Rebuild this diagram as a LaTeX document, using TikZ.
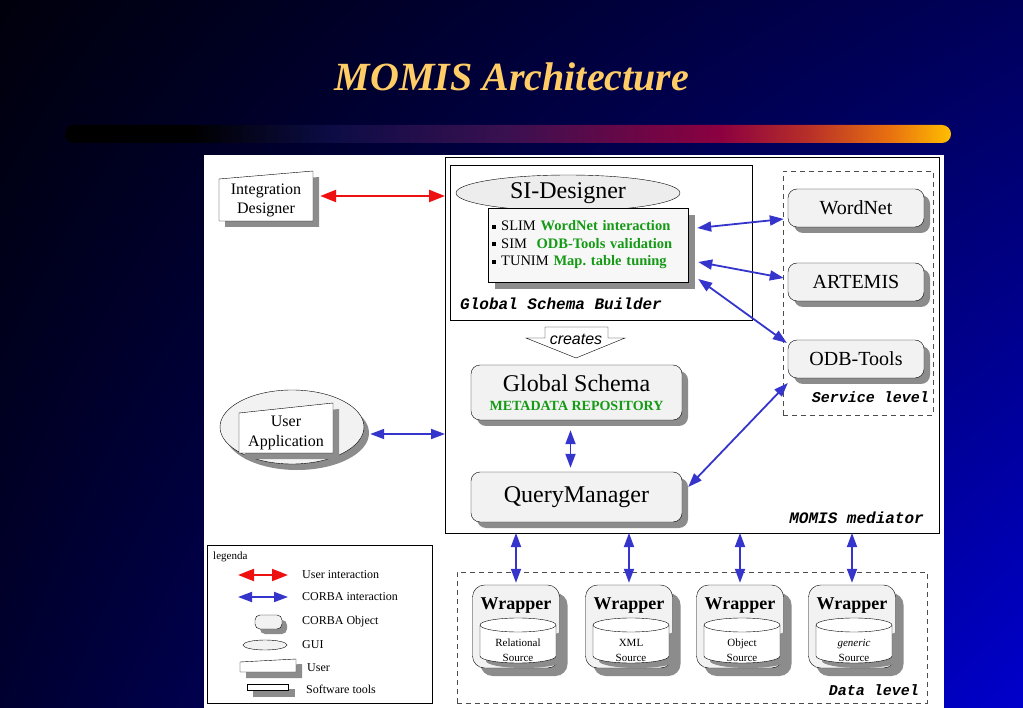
\documentclass[tikz,border=0pt]{standalone}
\usepackage{fontspec}
\setmainfont{Liberation Serif}
\setmonofont{Liberation Mono}
\newfontfamily\creafont{Liberation Sans}
\usepackage{xcolor}
\usetikzlibrary{arrows.meta,shapes.geometric,shadows,shadings}

\definecolor{titlegold}{HTML}{FFCC66}
\definecolor{corbablue}{HTML}{3535CC}
\definecolor{userred}{HTML}{EE1111}
\definecolor{toolgreen}{HTML}{159A15}
\definecolor{boxgray}{HTML}{F2F2F2}
\definecolor{shadowgray}{HTML}{8C8C8C}
\definecolor{barnavy}{HTML}{0C0C45}
\definecolor{barpurple}{HTML}{3A1050}
\definecolor{barcrimson}{HTML}{8C0040}
\definecolor{barred}{HTML}{B83028}
\definecolor{barorange}{HTML}{E87010}
\definecolor{bargold}{HTML}{FFBE00}
\definecolor{bgtl}{HTML}{00000C}
\definecolor{bgtr}{HTML}{00005A}
\definecolor{bgbl}{HTML}{000030}
\definecolor{bgbr}{HTML}{0000CC}

% TikZ fits the middle half (25bp--75bp) of a shading to the path
\pgfdeclarehorizontalshading{barshade}{100bp}{color(0bp)=(black); color(32bp)=(black); color(40bp)=(barnavy); color(50bp)=(barpurple); color(62bp)=(barcrimson); color(67bp)=(barred); color(71.5bp)=(barorange); color(75bp)=(bargold); color(100bp)=(bargold)}

\newcommand{\bsq}{\rule[0.3ex]{0.3em}{0.3em}}
\newcommand{\greenbf}[1]{\textcolor{toolgreen}{\bfseries #1}}

\tikzset{
  box/.style={draw, fill=boxgray, rounded corners=9pt, inner sep=0pt,
    drop shadow={shadow xshift=#1, shadow yshift=-#1, fill=shadowgray, opacity=1}},
  box/.default=6pt,
  frame/.style={draw, inner sep=0pt, outer sep=0pt},
  level/.style={draw=black!70, dash pattern=on 5pt off 4pt, inner sep=0pt, outer sep=0pt},
  lvltext/.style={font=\fontsize{15}{15}\selectfont\ttfamily\bfseries\itshape, anchor=base east, inner sep=0pt},
  corba/.style={draw=corbablue, line width=1.8pt, {Triangle[length=14pt,width=10pt]}-{Triangle[length=14pt,width=10pt]}},
  userlink/.style={draw=userred, line width=2.4pt, {Triangle[length=16pt,width=12pt]}-{Triangle[length=16pt,width=12pt]}},
  legtext/.style={anchor=west, inner sep=0pt, font=\fontsize{12}{12}\selectfont},
}

\begin{document}
\begin{tikzpicture}[x=1pt,y=-1pt]
    % Slide background
    \shade[upper left=bgtl, upper right=bgtr, lower left=bgbl, lower right=bgbr]
        (0,0) rectangle (1023,708);
    \useasboundingbox (0,0) rectangle (1023,708);

    % Title and bar
    \node[anchor=base, text=titlegold, font=\fontsize{40}{40}\selectfont\bfseries\itshape] (title) at (512,91) {MOMIS Architecture};
    \shade[shading=barshade, rounded corners=9pt] (65,125) rectangle (951,143);

    % White panel
    \fill[white] (204,155) rectangle (944,708);

    % Frames
    \node[frame, minimum width=494pt, minimum height=376pt] (med) at (692,345) {};
    \node[frame, minimum width=302pt, minimum height=155pt] (gsb) at (601,242.5) {};
    \node[level, minimum width=150pt, minimum height=244pt] (service) at (858,293) {};
    \node[level, minimum width=470pt, minimum height=131pt] (datalvl) at (692,637.5) {};

    \node[lvltext, font=\fontsize{16}{16}\selectfont\ttfamily\bfseries\itshape, anchor=base west] (gsblabel) at (460,310) {Global Schema Builder};
    \node[lvltext, font=\fontsize{16}{16}\selectfont\ttfamily\bfseries\itshape] (medlabel) at (924,523) {MOMIS mediator};
    \node[lvltext] (servlabel) at (929,403) {Service level};
    \node[lvltext] (datalabel) at (919,695) {Data level};

    % SI-Designer
    \node[ellipse, draw, fill=gray!14, minimum width=224pt, minimum height=36pt, inner sep=0pt,
          font=\fontsize{24}{24}\selectfont] (sid) at (568,193) {SI-Designer};
    \node[box=7pt, sharp corners, fill=gray!6, minimum width=200pt, minimum height=74pt,
          text width=192pt, align=left, font=\fontsize{14.5}{17.5}\selectfont] (tools) at (588,245)
        {\bsq~SLIM \greenbf{WordNet interaction}\\\bsq~SIM\ \ \greenbf{ODB-Tools validation}\\\bsq~TUNIM \greenbf{Map.\ table tuning}};

    % creates arrow
    \draw[fill=white] (545,327) -- (608,327) -- (608,338) -- (625,338) -- (576,358) -- (526,338) -- (545,338) -- cycle;
    \node[font=\fontsize{16}{16}\selectfont\creafont\itshape, inner sep=0pt] (creates) at (576,339) {creates};

    % Global Schema and QueryManager
    \node[box, minimum width=211pt, minimum height=55pt, align=center, font=\fontsize{24}{24}\selectfont] (gschema) at (576.5,392.5)
        {Global Schema\\[-5pt]{\fontsize{14}{14}\selectfont\bfseries\color{toolgreen}METADATA REPOSITORY}};
    \node[box, minimum width=211pt, minimum height=50pt, font=\fontsize{24}{24}\selectfont] (qm) at (576.5,497) {QueryManager};

    % Service level tools
    \node[box, minimum width=136pt, minimum height=38pt, font=\fontsize{20}{20}\selectfont] (wordnet) at (856,208) {WordNet};
    \node[box, minimum width=136pt, minimum height=38pt, font=\fontsize{20}{20}\selectfont] (artemis) at (856,282) {ARTEMIS};
    \node[box, minimum width=136pt, minimum height=38pt, font=\fontsize{20}{20}\selectfont] (odb) at (856,359) {ODB-Tools};

    % Integration Designer
    \fill[shadowgray] (225,185) -- (319,177) -- (319,227) -- (225,227) -- cycle;
    \draw[fill=white] (219,179) -- (313,171) -- (313,221) -- (219,221) -- cycle;
    \node[align=center, minimum width=94pt, inner sep=0pt, font=\fontsize{16}{19}\selectfont] (intdes) at (266,200) {Integration\\Designer};

    % User Application
    \node[ellipse, draw, fill=boxgray, minimum width=144pt, minimum height=74pt, inner sep=0pt,
          drop shadow={shadow xshift=5pt, shadow yshift=-6pt, fill=shadowgray, opacity=1}] (uapp) at (292,427) {};
    \fill[shadowgray] (245,419) -- (339,409) -- (339,459) -- (245,459) -- cycle;
    \draw[fill=white] (239,413) -- (333,403) -- (333,453) -- (239,453) -- cycle;
    \node[align=center, inner sep=0pt, font=\fontsize{16}{20}\selectfont] (uatext) at (286,433) {User\\Application};

    % Connectors
    \coordinate (idstart) at ([xshift=7pt,yshift=4pt]intdes.east);
    \draw[userlink] (idstart) -- (idstart -| med.west);
    \coordinate (uastart) at ([xshift=6pt,yshift=-7pt]uapp.east);
    \draw[corba] (uastart) -- (uastart -| med.west);
    \draw[corba] ([xshift=9pt,yshift=17pt]tools.east) -- ([xshift=-4pt,yshift=-11pt]wordnet.west);
    \draw[corba] ([xshift=10pt,yshift=-17pt]tools.east) -- ([xshift=-4pt,yshift=4pt]artemis.west);
    \draw[corba] ([xshift=10pt,yshift=-34pt]tools.east) -- ([xshift=-1pt,yshift=16pt]odb.west);
    \draw[corba] ([yshift=-24pt]odb.west) -- ([xshift=6pt,yshift=10pt]qm.east);
    \draw[corba] ([xshift=-6pt,yshift=-10pt]gschema.south) -- ([xshift=-6pt,yshift=4pt]qm.north);

    % Wrappers
    \foreach \x/\n/\src in {516/wa/Relational, 629/wb/XML, 740/wc/Object, 852/wd/{\textit{generic}}} {
        \node[box=8pt, rounded corners=12pt, minimum width=87pt, minimum height=83pt] (\n) at (\x,626.5) {};
        \node[inner sep=0pt, font=\fontsize{18}{18}\selectfont\bfseries] (\n-title) at (\x,606) {Wrapper};
        \fill[shadowgray, shift={(6,5)}] (\x-36,625) -- (\x-36,656) arc[start angle=180, end angle=0, x radius=38, y radius=7] -- (\x+40,625) arc[start angle=0, end angle=180, x radius=38, y radius=7];
        \draw[fill=white] (\x-36,625) -- (\x-36,656) arc[start angle=180, end angle=0, x radius=38, y radius=7] -- (\x+40,625);
        \draw[fill=white] (\x+2,625) ellipse[x radius=38, y radius=7];
        \node[align=center, inner sep=0pt, font=\fontsize{11}{15}\selectfont] (\n-src) at (\x+2,650) {\src\\Source};
        \draw[corba] (\n.north |- med.south) -- ([yshift=2pt]\n.north);
    }

    % Legend
    \node[frame, minimum width=225pt, minimum height=158pt] (legend) at (319.5,624) {};
    \node[anchor=north west, inner sep=0pt, font=\fontsize{11}{11}\selectfont] (legtitle) at ([xshift=6pt,yshift=-7pt]legend.north west) {legenda};
    \coordinate (lga) at (238,575);
    \coordinate (lgb) at (288,575);
    \draw[userlink, line width=2pt] (lga) -- (lgb);
    \coordinate (lgc) at (238,597);
    \coordinate (lgd) at (288,597);
    \draw[corba] (lgc) -- (lgd);
    \node[box=5pt, rounded corners=5pt, minimum width=27pt, minimum height=14pt] (lgobj) at (268.5,622) {};
    \node[ellipse, draw, fill=boxgray, minimum width=44pt, minimum height=10pt, inner sep=0pt] (lggui) at (265,645) {};
    \fill[shadowgray] (246,667) -- (302,664) -- (302,678) -- (246,678) -- cycle;
    \draw[fill=white] (240,662) -- (296,659) -- (296,672) -- (240,672) -- cycle;
    \fill[shadowgray] (253,689) rectangle (295,697);
    \draw[fill=white] (247,684) rectangle (288,690);
    \node[legtext] (lg1) at (302,575) {User interaction};
    \node[legtext] (lg2) at (302,597) {CORBA interaction};
    \node[legtext] (lg3) at (302,622) {CORBA Object};
    \node[legtext] (lg4) at (302,645) {GUI};
    \node[legtext] (lg5) at (307,668) {User};
    \node[legtext] (lg6) at (306,689) {Software tools};
\end{tikzpicture}
\end{document}
